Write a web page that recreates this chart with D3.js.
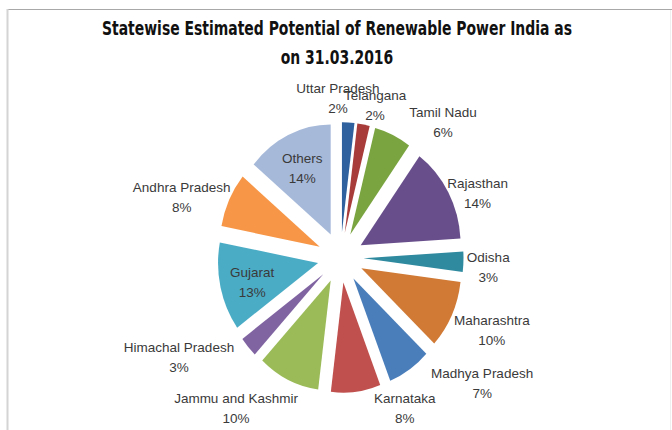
<!DOCTYPE html>
<html>
<head>
<meta charset="utf-8">
<script src="https://cdn.jsdelivr.net/npm/d3@7/dist/d3.min.js"></script>
<style>
  html, body { margin: 0; padding: 0; background: #fff; }
  svg { display: block; }
</style>
</head>
<body>
<svg id="chart" width="672" height="430"></svg>
<script>
// Share of estimated renewable power potential by state (%), clockwise from 12 o'clock
const states = ["Uttar Pradesh", "Telangana", "Tamil Nadu", "Rajasthan", "Odisha", "Maharashtra",
                "Madhya Pradesh", "Karnataka", "Jammu and Kashmir", "Himachal Pradesh", "Gujarat",
                "Andhra Pradesh", "Others"];
const shares = [2, 2, 6, 14, 3, 10, 7, 8, 10, 3, 13, 8, 14];
const sliceColors = ["#2f619f", "#a83c3a", "#7aa440", "#684f8c", "#2f8aa0", "#d07a35",
                     "#4a7ebb", "#c0504d", "#9bbb59", "#8064a2", "#4bacc6", "#f79646", "#a6b9d9"];

// Label placement: angle nudge from the slice middle (degrees) and distance from the pie centre
const labelLayout = {
  "Uttar Pradesh":     { nudge: -4.6, dist: 145 },
  "Telangana":         { nudge: 3.2,  dist: 143 },
  "Tamil Nadu":        { nudge: 14.6, dist: 160 },
  "Rajasthan":         { nudge: 5.7,  dist: 149 },
  "Odisha":            { nudge: 1.5,  dist: 148 },
  "Maharashtra":       { nudge: -1.7, dist: 165 },
  "Madhya Pradesh":    { nudge: -16.9, dist: 182 },
  "Karnataka":         { nudge: -18,  dist: 151 },
  "Jammu and Kashmir": { nudge: 12.2, dist: 172 },
  "Himachal Pradesh":  { nudge: 12.2, dist: 185 },
  "Gujarat":           { nudge: -1.5, dist: 91 },
  "Andhra Pradesh":    { nudge: -6.2, dist: 168 },
  "Others":            { nudge: 0,    dist: 90 }
};

const W = 672, H = 430;
const cx = 340.5, cy = 257.5;
const radius = 100, explode = 23, yStretch = 1.1;

const svg = d3.select("#chart");

// frame
svg.append("line").attr("x1", 7).attr("x2", W).attr("y1", 9.5).attr("y2", 9.5)
   .attr("stroke", "#a8a8a8").attr("stroke-width", 1.2);
svg.append("line").attr("x1", 7.5).attr("x2", 7.5).attr("y1", 9).attr("y2", H)
   .attr("stroke", "#d4d4d4").attr("stroke-width", 2);
svg.append("line").attr("x1", 670.5).attr("x2", 670.5).attr("y1", 10).attr("y2", H)
   .attr("stroke", "#efefef").attr("stroke-width", 1);

// title
const titleFont = "'Liberation Sans Narrow', 'Arial Narrow', 'DejaVu Sans Condensed', 'Liberation Sans', sans-serif";
const t1 = svg.append("text").attr("x", 337).attr("y", 35)
  .attr("text-anchor", "middle").attr("font-family", titleFont)
  .attr("font-weight", "bold").attr("font-size", 19).attr("fill", "#111")
  .text("Statewise Estimated Potential of Renewable Power India as");
const t2 = svg.append("text").attr("x", 337).attr("y", 64)
  .attr("text-anchor", "middle").attr("font-family", titleFont)
  .attr("font-weight", "bold").attr("font-size", 19).attr("fill", "#111")
  .text("on 31.03.2016");
const w1 = t1.node().getComputedTextLength();
const squeeze = 470 / w1;
if (Math.abs(squeeze - 1) > 0.02) {
  t1.attr("textLength", 470).attr("lengthAdjust", "spacingAndGlyphs");
  const w2 = t2.node().getComputedTextLength();
  t2.attr("textLength", w2 * squeeze).attr("lengthAdjust", "spacingAndGlyphs");
}

// pie
const data = states.map((s, i) => ({ state: s, share: shares[i], color: sliceColors[i] }));
const pie = d3.pie().value(d => d.share).sort(null).startAngle(0).endAngle(2 * Math.PI);
const arc = d3.arc().innerRadius(0).outerRadius(radius);
const arcs = pie(data);

const g = svg.append("g")
  .attr("transform", `translate(${cx},${cy}) scale(1,${yStretch})`);

g.selectAll("path").data(arcs).join("path")
  .attr("d", arc)
  .attr("fill", d => d.data.color)
  .attr("transform", d => {
    const a = (d.startAngle + d.endAngle) / 2;
    return `translate(${explode * Math.sin(a)},${-explode * Math.cos(a)})`;
  });

// labels
const labelFont = "'Liberation Sans', Arial, sans-serif";
const labels = svg.append("g");
arcs.forEach(d => {
  const lay = labelLayout[d.data.state];
  const a = (d.startAngle + d.endAngle) / 2 + lay.nudge * Math.PI / 180;
  const x = cx + lay.dist * Math.sin(a);
  const y = cy - lay.dist * Math.cos(a) * yStretch;
  const t = labels.append("text")
    .attr("x", x).attr("text-anchor", "middle")
    .attr("font-family", labelFont).attr("font-size", 13.5).attr("fill", "#3a3a3a");
  t.append("tspan").attr("x", x).attr("y", y - 5).text(d.data.state);
  t.append("tspan").attr("x", x).attr("y", y + 15).text(d3.format(".0f")(d.data.share) + "%");
});
</script>
</body>
</html>
